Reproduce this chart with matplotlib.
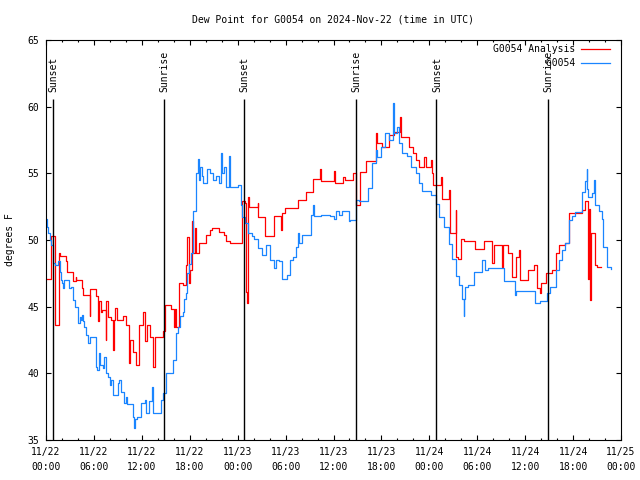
import matplotlib
matplotlib.use('Agg')
import matplotlib.pyplot as plt
from matplotlib.ticker import MultipleLocator

# hours since 2024-11-22 00:00 UTC
redHours = [0.0, 0.67, 1.1, 1.6, 1.8, 2.55, 2.65, 3.4, 3.7, 3.8, 4.55, 4.65, 5.5, 5.55,
            6.3, 6.55, 6.6, 6.9, 7.05, 7.5, 7.55, 7.75, 8.2, 8.45, 8.5, 8.7, 8.85, 9.6,
            10.0, 10.4, 10.55, 10.9, 11.3, 11.6, 12.2, 12.45, 12.6, 13.0, 13.35, 13.6,
            14.6, 14.9, 15.6, 16.0, 16.1, 16.3, 16.6, 17.1, 17.5, 17.65, 17.9, 18.05,
            18.3, 18.4, 18.7, 18.8, 19.2, 20.0, 20.5, 20.8, 21.7, 22.3, 22.6, 23.0,
            24.5, 24.9, 25.05, 25.2, 25.3, 25.4, 26.5, 26.6, 27.4, 28.5, 29.45, 29.55,
            29.9, 31.5, 32.55, 33.4, 34.3, 34.45, 35.5, 36.1, 36.2, 37.2, 37.4, 38.4,
            38.8, 39.3, 40.1, 41.3, 41.45, 42.1, 42.9, 43.6, 44.3, 44.5, 45.5, 45.9,
            46.3, 46.7, 47.3, 47.55, 48.2, 48.3, 48.5, 49.4, 49.55, 50.5, 50.6, 51.3,
            51.4, 51.55, 52.0, 52.4, 53.7, 54.8, 55.9, 56.05, 57.1, 57.2, 57.9, 58.4,
            58.8, 59.2, 59.4, 60.3, 61.1, 61.5, 61.8, 62.0, 62.6, 63.4, 63.8, 64.2,
            65.0, 65.5, 65.9, 67.1, 67.5, 67.9, 68.0, 68.15, 68.3, 68.8, 69.0, 69.5]
redValues = [47.1, 50.3, 43.6, 49.0, 48.8, 48.4, 47.6, 46.9, 47.2, 47.0, 46.4, 45.9, 44.3, 46.3,
             45.8, 43.9, 45.4, 44.6, 44.75, 42.5, 45.4, 44.25, 44.0, 41.75, 44.0, 44.9, 44.0, 44.3,
             43.6, 40.75, 42.5, 41.6, 40.6, 43.6, 44.6, 42.4, 43.6, 42.75, 40.5, 42.75,
             43.2, 45.1, 44.8, 43.5, 44.8, 43.5, 46.8, 46.6, 48.1, 50.2, 46.75, 47.75,
             51.4, 49.0, 50.9, 49.0, 49.75, 50.4, 50.75, 50.9, 50.6, 50.4, 49.9, 49.8,
             52.9, 52.8, 46.1, 45.25, 53.25, 52.5, 52.75, 51.75, 50.3, 51.8, 50.75, 52.0,
             52.4, 53.0, 53.6, 54.6, 55.3, 54.4, 54.4, 55.2, 54.3, 54.7, 54.5, 55.0,
             52.6, 55.1, 55.9, 58.0, 57.25, 57.0, 57.9, 58.1, 59.2, 57.7, 57.0, 56.5,
             56.0, 55.5, 56.2, 55.5, 56.0, 55.0, 54.1, 54.7, 53.05, 53.75, 50.5, 52.25,
             48.75, 48.6, 50.1, 49.9, 49.3, 49.9, 48.25, 49.6, 48.0, 49.6, 49.0, 47.25,
             48.75, 49.25, 47.0, 47.75, 48.1, 46.4, 46.0, 46.75, 47.5, 47.75, 49.0, 49.6,
             49.75, 52.0, 52.05, 52.25, 52.9, 47.1, 52.3, 45.5, 50.5, 48.1, 48.0, 48.0]

blueHours = [0.0, 0.15, 0.3, 0.45, 0.6, 0.9, 1.1, 1.5, 1.7, 1.9, 2.05, 2.1, 2.3, 2.9, 3.1,
             3.4, 3.6, 4.0, 4.2, 4.35, 4.45, 4.6, 4.8, 5.0, 5.2, 5.45, 6.2, 6.3, 6.4, 6.6,
             6.75, 7.1, 7.3, 7.5, 7.8, 8.0, 8.2, 8.4, 9.0, 9.2, 9.35, 9.8, 10.0, 10.2, 10.9,
             11.05, 11.2, 11.35, 11.9, 12.4, 12.5, 12.9, 13.3, 13.45, 14.4, 14.7, 15.0,
             15.9, 16.3, 16.5, 16.8, 17.1, 17.3, 17.5, 17.7, 17.9, 18.1, 18.4, 18.8, 19.0,
             19.1, 19.3, 19.5, 19.6, 20.2, 20.5, 20.9, 21.3, 21.6, 21.9, 22.0, 22.3, 22.6,
             22.9, 23.0, 24.0, 24.4, 24.6, 24.9, 25.3, 25.8, 26.1, 26.6, 27.1, 27.5, 28.0,
             28.5, 28.8, 29.2, 29.6, 30.2, 30.5, 30.9, 31.3, 31.5, 31.7, 32.1, 33.2, 33.4,
             33.5, 34.4, 35.5, 36.0, 36.3, 36.7, 37.1, 37.95, 38.1, 38.8, 39.2, 40.3, 40.8,
             41.3, 41.5, 42.0, 42.5, 43.0, 43.4, 43.5, 43.6, 44.0, 44.2, 44.6, 45.2, 45.7,
             46.3, 46.7, 47.1, 48.2, 48.8, 49.2, 49.8, 50.5, 50.9, 51.3, 51.7, 52.1, 52.3,
             52.4, 52.5, 52.9, 53.6, 54.6, 55.0, 55.3, 57.4, 58.7, 58.9, 61.2, 61.9, 62.7,
             63.1, 63.8, 64.2, 64.6, 65.0, 65.5, 65.9, 66.3, 67.1, 67.5, 67.7, 67.8, 67.9,
             68.4, 68.6, 68.8, 69.2, 69.6, 69.8, 70.2, 70.7]
blueValues = [51.6, 51.0, 50.5, 50.0, 49.6, 48.3, 48.1, 48.4, 47.6, 47.0, 46.8, 46.4, 47.0, 46.4, 46.5,
              45.5, 45.0, 43.75, 44.2, 44.0, 44.4, 43.9, 43.5, 42.9, 42.3, 42.7, 41.5, 40.5, 40.25, 41.5,
              40.6, 40.4, 41.25, 40.0, 39.7, 39.1, 39.5, 38.4, 39.25, 39.5, 38.6, 37.75, 38.2, 37.7, 36.75,
              35.9, 36.6, 36.75, 37.75, 38.0, 37.0, 37.9, 39.0, 37.0, 38.0, 38.5, 40.0,
              41.0, 43.0, 43.5, 44.3, 44.6, 45.6, 46.0, 47.5, 48.2, 49.0, 52.2, 55.0, 56.1,
              54.5, 55.5, 54.8, 54.3, 55.3, 55.0, 54.5, 54.8, 54.3, 56.5, 55.0, 55.5, 54.0,
              56.3, 54.0, 54.1, 52.6, 51.7, 51.3, 50.5, 50.3, 50.1, 49.4, 48.9, 49.6, 48.5,
              47.9, 48.5, 48.4, 47.1, 47.4, 48.5, 48.75, 49.5, 50.5, 49.8, 50.4, 51.9, 52.6,
              51.8, 51.9, 51.8, 51.6, 52.2, 51.9, 52.2, 51.4, 51.5, 53.0, 52.9, 53.9, 55.75,
              56.75, 56.2, 57.0, 58.0, 57.5, 58.3, 60.3, 58.0, 58.5, 57.3, 56.5, 56.3, 55.5,
              55.0, 54.3, 53.7, 53.4, 52.7, 51.7, 51.0, 49.7, 48.6, 47.3, 46.6, 45.6, 44.3,
              45.6, 46.5, 46.6, 47.6, 48.5, 47.75, 47.9, 46.9, 45.9, 46.2, 45.25, 45.4, 46.0,
              46.5, 47.75, 48.5, 49.25, 49.8, 51.5, 51.8, 52.1, 53.6, 54.4, 55.3, 53.8, 53.2,
              53.5, 54.5, 52.6, 52.2, 51.6, 49.5, 48.0, 47.8]

eventHours = [0.88, 14.77, 24.78, 38.8, 48.86, 62.83]
eventNames = ['Sunset', 'Sunrise', 'Sunset', 'Sunrise', 'Sunset', 'Sunrise']

tickHours = list(range(0, 73, 6))
tickLabels = ['11/22\n00:00', '11/22\n06:00', '11/22\n12:00', '11/22\n18:00',
              '11/23\n00:00', '11/23\n06:00', '11/23\n12:00', '11/23\n18:00',
              '11/24\n00:00', '11/24\n06:00', '11/24\n12:00', '11/24\n18:00',
              '11/25\n00:00']

RED = '#ff0000'
BLUE = '#1a85ff'


def drawDewPoint():
    plt.rcParams['font.family'] = ['DejaVu Sans Mono']
    plt.rcParams['font.size'] = 7

    fig = plt.figure(figsize=(6.4, 4.8), dpi=100)
    ax = fig.add_axes([46 / 640, 40 / 480, 575 / 640, 400 / 480])

    ax.plot(redHours, redValues, color=RED, lw=0.9, drawstyle='steps-post',
            label='G0054 Analysis')
    ax.plot(blueHours, blueValues, color=BLUE, lw=0.9, drawstyle='steps-post',
            label='         G0054')

    # sunrise / sunset markers
    ax.vlines(eventHours, 35, 60.6, color='black', lw=1.0)
    for h, name in zip(eventHours, eventNames):
        ax.text(h + 0.1, 61.1, name, rotation=90, ha='center', va='bottom')

    ax.set_xlim(0, 72)
    ax.set_ylim(35, 65)
    ax.set_xticks(tickHours)
    ax.set_xticklabels(tickLabels, linespacing=1.6)
    ax.xaxis.set_minor_locator(MultipleLocator(2))
    ax.yaxis.set_major_locator(MultipleLocator(5))
    ax.tick_params(which='both', direction='in', top=True, right=True, width=0.8)
    ax.tick_params(which='major', length=3.4)
    ax.tick_params(which='minor', length=1.7)
    ax.tick_params(axis='x', pad=5)
    ax.tick_params(axis='y', pad=5)
    for s in ax.spines.values():
        s.set_linewidth(0.8)

    ax.set_ylabel('degrees F')
    ax.yaxis.set_label_coords(-0.054, 0.5)
    ax.set_title('Dew Point for G0054 on 2024-Nov-22 (time in UTC)', fontsize=7, pad=12.5)

    ax.legend(loc='upper right', bbox_to_anchor=(0.981, 0.99), frameon=False,
              markerfirst=False, handlelength=3.0, handletextpad=0.6,
              labelspacing=0.45, borderaxespad=0, borderpad=0)

    fig.savefig('out.png', dpi=100)


if __name__ == "__main__":
    drawDewPoint()
